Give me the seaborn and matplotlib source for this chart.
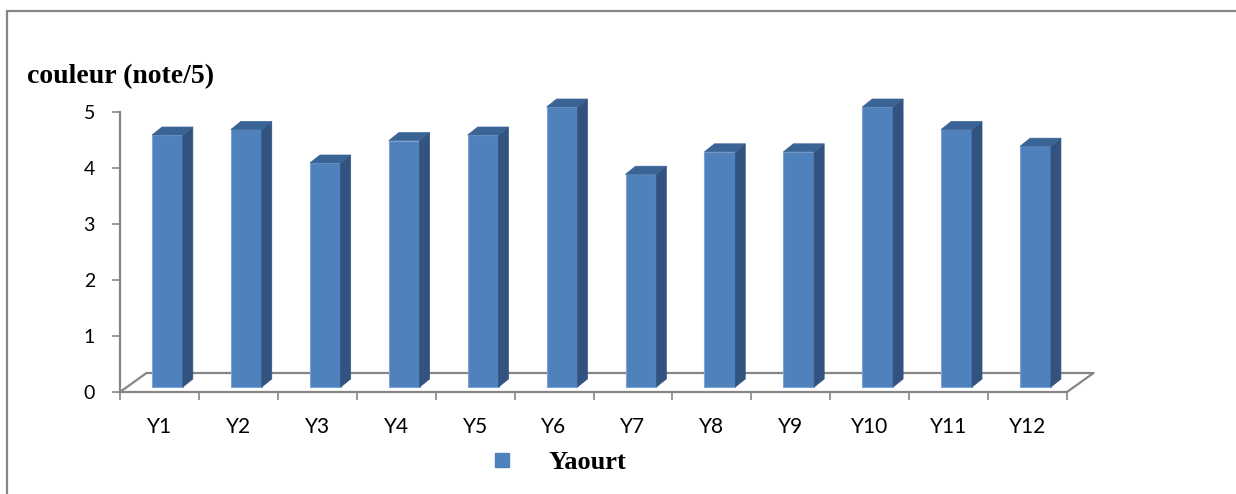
import numpy as np
import pandas as pd
import matplotlib
matplotlib.use("Agg")
import matplotlib.pyplot as plt
import seaborn as sns
from matplotlib.lines import Line2D
from matplotlib.patches import Polygon
from matplotlib.transforms import ScaledTranslation, IdentityTransform

# ---- data -------------------------------------------------------------
categories = ["Y1", "Y2", "Y3", "Y4", "Y5", "Y6",
              "Y7", "Y8", "Y9", "Y10", "Y11", "Y12"]
scores = [4.5, 4.6, 4.0, 4.4, 4.5, 5.0, 3.8, 4.2, 4.2, 5.0, 4.6, 4.3]
series_name = "Yaourt"
y_title = "couleur (note/5)"
y_ticks = [0, 1, 2, 3, 4, 5]

# ---- style ------------------------------------------------------------
sns.set_style("white")
plt.rcParams["font.family"] = ["Lato", "DejaVu Sans"]
plt.rcParams["text.color"] = "black"

FRONT = "#4F81BD"
SIDE = "#32537F"
TOP = "#3B6496"
EDGE = "#7FA3D3"
AXIS_GREY = "#868686"

W, H, DPI = 1236, 494, 100
fig = plt.figure(figsize=(W / DPI, H / DPI), dpi=DPI)
fig.patch.set_facecolor("white")

# plotting area in pixels (left, bottom, width, height)
ax_left, ax_bottom, ax_right, ax_top = 120, H - 392, 1067, H - 112
ax = fig.add_axes([ax_left / W, ax_bottom / H,
                   (ax_right - ax_left) / W, (ax_top - ax_bottom) / H])

df = pd.DataFrame({"produit": categories, "note": scores})
sns.barplot(data=df, x="produit", y="note", color=FRONT, saturation=1,
            width=0.39, edgecolor=EDGE, linewidth=0.8, ax=ax, zorder=3)

ax.set_xlim(-0.5, len(categories) - 0.5)
ax.set_ylim(0, 5)
ax.set_xlabel("")
ax.set_ylabel("")

# pseudo-3D: bars stand slightly back from the front edge of the floor
px = 1.0 / DPI
bar_shift = ScaledTranslation(8 * px, 5 * px, fig.dpi_scale_trans)
depth_dx, depth_dy = 10, 8          # bar depth (pixels)
floor_dx, floor_dy = 26.5, 19       # floor depth (pixels)

for bar in list(ax.patches):
    trans = ax.transData + bar_shift
    bar.set_transform(trans)
    bar.set_clip_on(False)
    bar.set_zorder(3)
    x0 = bar.get_x()
    x1 = x0 + bar.get_width()
    y0 = bar.get_y()
    y1 = y0 + bar.get_height()
    (bx0, by0), (bx1, by1) = trans.transform([(x0, y0), (x1, y1)])
    side = [(bx1, by0), (bx1 + depth_dx, by0 + depth_dy),
            (bx1 + depth_dx, by1 + depth_dy), (bx1, by1)]
    top = [(bx0, by1), (bx1, by1),
           (bx1 + depth_dx, by1 + depth_dy), (bx0 + depth_dx, by1 + depth_dy)]
    for pts, col in ((side, SIDE), (top, TOP)):
        poly = Polygon(pts, closed=True, facecolor=col, edgecolor=col,
                       linewidth=0.5, transform=IdentityTransform(),
                       zorder=3)
        poly.set_clip_on(False)
        ax.add_artist(poly)

# floor outline (back edge and the two receding sides), behind the bars
(fx0, fy0), (fx1, _) = ax.transAxes.transform([(0, 0), (1, 0)])
floor = [(fx0, fy0), (fx0 + floor_dx, fy0 + floor_dy),
         (fx1 + floor_dx, fy0 + floor_dy), (fx1, fy0)]
floor_line = Line2D([p[0] for p in floor], [p[1] for p in floor],
                    color=AXIS_GREY, linewidth=1.6,
                    transform=IdentityTransform(), zorder=1)
floor_line.set_clip_on(False)
ax.add_artist(floor_line)

# axes styling
for s in ("top", "right"):
    ax.spines[s].set_visible(False)
for s in ("left", "bottom"):
    ax.spines[s].set_color(AXIS_GREY)
    ax.spines[s].set_linewidth(1.6)

ax.set_yticks(y_ticks)
ax.set_yticklabels([str(t) for t in y_ticks])
ax.tick_params(axis="y", which="major", direction="out", length=6,
               width=1.2, color=AXIS_GREY, pad=12, labelsize=14,
               labelcolor="black", left=True)

ax.set_xticks(np.arange(-0.5, len(categories), 1))
ax.set_xticklabels([])
ax.set_xticks(np.arange(len(categories)), minor=True)
ax.set_xticklabels(categories, minor=True)
ax.tick_params(axis="x", which="major", direction="out", length=6,
               width=1.2, color=AXIS_GREY, bottom=True)
ax.tick_params(axis="x", which="minor", length=0, pad=18, labelsize=15,
               labelcolor="black")

# title above the value axis
fig.text(27 / W, 1 - 83 / H, y_title, ha="left", va="baseline",
         fontsize=20, fontweight="bold", family="Liberation Serif",
         color="black")

# legend
handle = Line2D([], [], marker="s", linestyle="none", markersize=10,
                markerfacecolor=FRONT, markeredgecolor=FRONT)
leg = fig.legend([handle], [series_name], loc="center left",
                 bbox_to_anchor=(489 / W, 1 - 462 / H), frameon=False,
                 borderpad=0, borderaxespad=0, handlelength=1.0,
                 handletextpad=1.24,
                 prop={"family": "Liberation Serif", "weight": "bold",
                       "size": 19})
for t in leg.get_texts():
    t.set_color("black")

# chart frame (top and left edges inside the image)
fig.lines.append(Line2D([7, W + 5], [H - 11, H - 11], color=AXIS_GREY,
                        linewidth=1.6, transform=IdentityTransform(),
                        figure=fig))
fig.lines.append(Line2D([7, 7], [H - 11, -5], color=AXIS_GREY,
                        linewidth=1.6, transform=IdentityTransform(),
                        figure=fig))

fig.savefig("out.png", dpi=DPI)
